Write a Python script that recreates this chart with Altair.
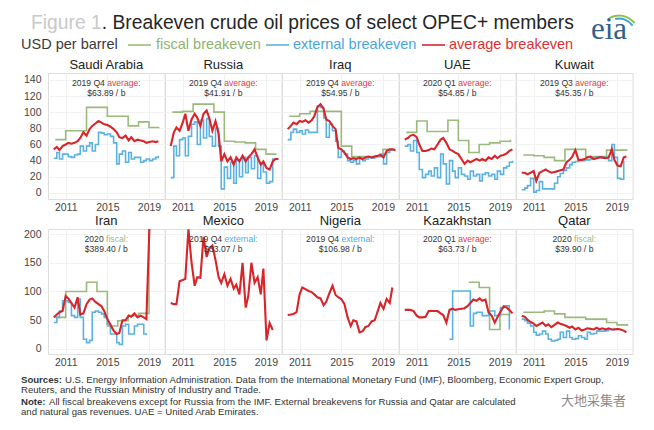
import altair as alt
import pandas as pd

FONT = "Liberation Sans"
GREEN = "#9aba7c"
BLUE = "#5bb2e2"
RED = "#d9242a"
DARK = "#333333"

ROW1 = ["Saudi Arabia", "Russia", "Iraq", "UAE", "Kuwait"]
ROW2 = ["Iran", "Mexico", "Nigeria", "Kazakhstan", "Qatar"]

# sampling times (years) of the external / average series
TIME = [2009.85, 2010.15, 2010.4, 2010.7, 2011.0, 2011.25, 2011.55, 2011.85, 2012.15, 2012.4,
        2012.7, 2013.0, 2013.3, 2013.55, 2013.85, 2014.15, 2014.45, 2014.7, 2015.0, 2015.3,
        2015.6, 2015.9, 2016.15, 2016.45, 2016.75, 2017.05, 2017.3, 2017.6, 2017.9, 2018.2,
        2018.5, 2018.75, 2019.05, 2019.35, 2019.65, 2019.9, 2020.2]
FISCAL_YEARS = [2010, 2011, 2012, 2013, 2014, 2015, 2016, 2017, 2018, 2019, 2020]

FISCAL = {
    "Saudi Arabia": [66, 77, 77, 106, 106, 95, 95, 83, 88, 81, 81],
    "Russia": [100, 101, 110, 110, 100, 64, 63, 62, 54, 48, 48],
    "Iraq": [95, 98, 101, 101, 101, 58, 45, 45, 45, 54, 54],
    "UAE": [75, 89, 76, 76, 90, 65, 50, 60, 62, 64, 66],
    "Kuwait": [47, 46, 44, 40, 54, 54, 45, 45, 53, 53, 53],
    "Iran": [55, 100, 100, 116, 100, 40, 49, 58, 62, 389.4, 389.4],
    "Mexico": [None] * 11,
    "Nigeria": [None] * 11,
    "Kazakhstan": [None, None, None, None, None, None, 116, 107, 34, 60, 60],
    "Qatar": [64, 64, 66, 61, 55, 55, 52, 52, 46, 42, 40],
}

EXTERNAL = {
    "Saudi Arabia": [43, 50, 42, 48, 48, 45, 44, 47, 48, 58, 52, 58, 62, 52, 60, 75, 74, 72, 73, 70,
                     62, 36, 48, 52, 38, 50, 42, 44, 44, 38, 40, 42, 40, 42, 44, 46],
    "Russia": [19, 58, 46, 66, 68, 46, 70, 85, 88, 60, 90, 68, 92, 70, 58, 80, 58, 5, 32, 18,
               38, 12, 40, 20, 44, 25, 44, 30, 46, 18, 36, 26, 12, 14, 42, 42],
    "Iraq": [66, 75, 79, 75, 77, 73, 78, 75, 75, 75, 108, 106, 93, 69, 85, 77, 64, 44, 52, 48,
             40, 38, 40, 36, 42, 40, 42, 44, 43, 45, 46, 48, 36, 50, 53, 54],
    "UAE": [58, 60, 52, 65, 50, 29, 19, 23, 27, 21, 31, 19, 48, 36, 11, 40, 27, 19, 31, 23,
            21, 17, 27, 21, 23, 15, 23, 25, 21, 23, 17, 27, 23, 31, 33, 38, 40],
    "Kuwait": [4, 6, 9, 18, 1, 3, 14, 5, 5, 5, 5, 12, 20, 24, 28, 31, 35, 38, 39, 40,
               40, 41, 41, 42, 43, 44, 44, 43, 44, 40, 60, 44, 18, 17, 40],
    "Iran": [46, 55, 66, 84, 84, 81, 58, 55, 87, 55, 17, 11, 15, 64, 66, 64, 61, 55, 43, 26,
             26, 11, 8, 40, 43, 26, 26, 40, 43, 43, 26, 24],
    "Mexico": [],
    "Nigeria": [],
    "Kazakhstan": [None] * 15 + [17, 101, 101, 101, 101, 101, 101, 40, 62, 64, 64, 58, 58, 66, 66,
                                 58, 58, 72, 75, 75, 34],
    "Qatar": [52, 49, 45, 40, 29, 24, 26, 31, 26, 17, 14, 15, 17, 29, 20, 31, 20, 17, 18, 23,
              20, 17, 29, 26, 27, 31, 31, 31, 32, 34, 34, 37],
}

AVERAGE = {
    "Saudi Arabia": [54, 57, 53, 58, 60, 62, 61, 62, 64, 68, 75, 71, 79, 83, 86, 89, 87, 85, 84, 82,
                     79, 75, 69, 68, 71, 65, 69, 64, 66, 65, 64, 62, 63, 64, 63, 64],
    "Russia": [58, 75, 81, 77, 87, 98, 77, 91, 98, 93, 83, 98, 102, 93, 77, 89, 73, 39, 48, 39,
               44, 35, 44, 39, 46, 39, 44, 48, 54, 44, 35, 39, 31, 29, 39, 42, 42],
    "Iraq": [79, 83, 87, 85, 89, 88, 90, 87, 90, 95, 106, 110, 104, 91, 89, 83, 79, 56, 54, 50,
             44, 42, 43, 42, 44, 42, 44, 45, 44, 45, 46, 47, 44, 52, 54, 54, 53],
    "UAE": [66, 68, 71, 72, 69, 60, 52, 52, 53, 55, 54, 60, 66, 68, 62, 54, 52, 50, 48, 42,
            36, 40, 38, 40, 42, 40, 42, 40, 44, 42, 46, 43, 46, 47, 49, 52, 54],
    "Kuwait": [25, 25, 23, 25, 27, 15, 25, 27, 29, 27, 25, 26, 27, 28, 29, 38, 41, 45, 53, 41,
               41, 42, 44, 45, 42, 43, 44, 44, 43, 44, 54, 41, 34, 33, 44, 45],
    "Iran": [55, 60, 64, 66, 92, 88, 80, 72, 90, 60, 62, 78, 86, 88, 82, 78, 74, 66, 52, 42,
             32, 26, 28, 50, 50, 58, 56, 62, 55, 58, 55, 52, 215],
    "Mexico": [80, 78, 78, 118, 120, 122, 208, 150, 110, 125, 124, 195, 160, 175, 180, 155, 125, 115,
               130, 110, 122, 105, 112, 95, 150, 72, 92, 150, 115, 125, 95, 140, 15, 45, 33],
    "Nigeria": [59, 60, 61, 64, 96, 107, 104, 101, 99, 95, 90, 88, 76, 82, 97, 110, 94, 90, 87, 78,
                55, 40, 50, 48, 29, 31, 38, 40, 48, 50, 66, 80, 70, 87, 80, 107],
    "Kazakhstan": [68, 68, 68, 66, 58, 55, 55, 56, 66, 66, 66, 66, 62, 59, 46, 68, 70, 68, 69, 70,
                   71, 75, 80, 86, 84, 88, 84, 86, 64, 58, 46, 55, 65, 74, 72, 68, 62],
    "Qatar": [58, 56, 51, 47, 44, 40, 43, 46, 40, 43, 38, 42, 46, 44, 42, 40, 37, 39, 34, 37,
              32, 34, 36, 35, 34, 37, 34, 36, 34, 36, 34, 34, 35, 34, 32, 29],
}

NOTE_PERIOD = {"Saudi Arabia": "2019 Q4", "Russia": "2019 Q4", "Iraq": "2019 Q4", "UAE": "2020 Q1",
               "Kuwait": "2019 Q3", "Iran": "2020", "Mexico": "2019 Q4", "Nigeria": "2019 Q4",
               "Kazakhstan": "2020 Q1", "Qatar": "2020"}
NOTE_SERIES = {"Saudi Arabia": "average", "Russia": "average", "Iraq": "average", "UAE": "average",
               "Kuwait": "average", "Iran": "fiscal", "Mexico": "external", "Nigeria": "external",
               "Kazakhstan": "average", "Qatar": "fiscal"}
NOTE_VALUE = {"Saudi Arabia": "$63.89 / b", "Russia": "$41.91 / b", "Iraq": "$54.95 / b",
              "UAE": "$54.85 / b", "Kuwait": "$45.35 / b", "Iran": "$389.40 / b",
              "Mexico": "$33.07 / b", "Nigeria": "$106.98 / b", "Kazakhstan": "$63.73 / b",
              "Qatar": "$39.90 / b"}
NOTE_COLOR = {"average": "#e8383d", "fiscal": "#9aba7c", "external": "#4aaee6"}

# ---------------------------------------------------------------- layout helpers
X_DOMAIN = [2009.3, 2020.5]
PANEL_W = 116.6
NOTE_SIZE = 8.6
PPY = PANEL_W / (X_DOMAIN[1] - X_DOMAIN[0])
X_CENTER = (X_DOMAIN[0] + X_DOMAIN[1]) / 2

ARIAL = {" ": 278, "Q": 778, "$": 556, ".": 278, "/": 278, ":": 278, "a": 556, "v": 500, "e": 556,
         "r": 333, "g": 556, "f": 278, "i": 222, "s": 500, "c": 500, "l": 222, "x": 500, "t": 278,
         "n": 556, "b": 556}


def text_w(s, size):
    return sum(ARIAL.get(ch, 556) for ch in s) / 1000.0 * size


def txt(text, x, y, size, color, weight="normal", align="left", font=FONT):
    return alt.Chart(pd.DataFrame({"t": [text]})).mark_text(
        align=align, baseline="middle", fontSize=size, font=font, color=color,
        fontWeight=weight).encode(text="t:N", x=alt.value(x), y=alt.value(y))


def swatch(x1, x2, y, color):
    return alt.Chart(pd.DataFrame({"t": [0]})).mark_rule(color=color, strokeWidth=1.6).encode(
        x=alt.value(x1), x2=alt.value(x2), y=alt.value(y))


def logo_arc(cx, cy, r1, r2, t1, t2, color):
    return alt.Chart(pd.DataFrame({"t": [0]})).mark_arc(
        radius=r1, radius2=r2, theta=t1, theta2=t2, color=color).encode(
        x=alt.value(cx), y=alt.value(cy))


# header texts, placed relative to the plot origin of the first panel (page x=47, y=72)
TITLE_SIZE = 19.3
HEADER = [
    txt("Figure 1", -17, -50, TITLE_SIZE, "#c9c9c9"),
    txt(". Breakeven crude oil prices of select OPEC+ members", 53.8, -50, TITLE_SIZE, "#262626"),
    txt("USD per barrel", -27, -28, 14.5, "#3a3a3a"),
    swatch(80, 103, -28, GREEN),
    txt("fiscal breakeven", 108, -28, 14.5, "#8fb46d"),
    swatch(218, 241, -28, BLUE),
    txt("external breakeven", 245, -28, 14.5, "#4aa6dc"),
    swatch(374, 397, -28, RED),
    txt("average breakeven", 401, -28, 14.5, "#e03030"),
    txt("eia", 561, -43, 31, "#2f5f8c", align="center", font="Liberation Serif"),
    logo_arc(571, -38, 18.5, 20.5, 5.75, 7.2, "#8cc152"),
    logo_arc(571, -38, 15.5, 17.5, 6.05, 7.25, "#3f9fd8"),
]

# footer texts, placed relative to the plot origin of the first panel of row 2 (page x=47, y=228)
FOOT_SIZE = 9.6
FOOTER = [
    txt("Sources:", -27, 151, FOOT_SIZE, "#333333", weight="bold"),
    txt("U.S. Energy Information Administration. Data from the International Monetary Fund (IMF), "
        "Bloomberg, Economic Expert Group,", 17, 151, FOOT_SIZE, "#333333"),
    txt("Reuters, and the Russian Ministry of Industry and Trade.", -27, 161, FOOT_SIZE, "#333333"),
    txt("Note:", -27, 173, FOOT_SIZE, "#333333", weight="bold"),
    txt("All fiscal breakevens except for Russia from the IMF. External breakevens for Russia and "
        "Qatar are calculated", 1, 173, FOOT_SIZE, "#333333"),
    txt("and natural gas revenues. UAE = United Arab Emirates.", -27, 183, FOOT_SIZE, "#333333"),
    txt("大地采集者", 513, 172, 13, "#8a8a8a", font="Noto Sans CJK SC"),
]


def build_df(c):
    rows = []
    for yr, v in zip(FISCAL_YEARS, FISCAL[c]):
        if v is not None:
            rows.append(dict(kind="fiscal", t=yr, v=v))
    for t, v in zip(TIME, EXTERNAL[c]):
        if v is not None:
            rows.append(dict(kind="external", t=t, v=v))
    for t, v in zip(TIME, AVERAGE[c]):
        if v is not None:
            rows.append(dict(kind="average", t=t, v=v))
    prefix = NOTE_PERIOD[c]
    suffix = NOTE_SERIES[c] + ":"
    sp = text_w(" ", NOTE_SIZE)
    wp, ws = text_w(prefix, NOTE_SIZE), text_w(suffix, NOTE_SIZE)
    split_px = -(wp + sp + ws) / 2 + wp + sp / 2
    rows.append(dict(kind="note", prefix=prefix, suffix=suffix,
                     scol=NOTE_COLOR[NOTE_SERIES[c]], val=NOTE_VALUE[c],
                     xs=X_CENTER + split_px / PPY))
    return pd.DataFrame(rows)


def panel(c, first, y_domain, y_ticks, height, note_y1, note_y2, extra):
    df = build_df(c)
    xs = alt.Scale(domain=X_DOMAIN, nice=False, zero=False)
    ys = alt.Scale(domain=y_domain, nice=False, zero=False)
    xaxis = alt.Axis(values=[2011, 2015, 2019], format="d", title=None, labelFontSize=10.5,
                     labelColor="#444444", labelFont=FONT, ticks=False, domain=False, grid=True,
                     gridColor="#f2f2f2", labelPadding=3, labelFlush=False, labelOverlap=False)
    yaxis = alt.Axis(values=y_ticks, title=None, labelFontSize=10.5, labelColor="#444444",
                     labelFont=FONT, ticks=False, domain=False, grid=True, gridColor="#f2f2f2",
                     labelPadding=7, labelOverlap=False, labels=first)
    X = alt.X("t:Q", scale=xs, axis=xaxis)
    Y = alt.Y("v:Q", scale=ys, axis=yaxis)
    base = alt.Chart()
    fiscal = base.transform_filter(alt.datum.kind == "fiscal").mark_line(
        interpolate="step-after", color=GREEN, strokeWidth=1.6, clip=True).encode(x=X, y=Y)
    external = base.transform_filter(alt.datum.kind == "external").mark_line(
        interpolate="step-after", color=BLUE, strokeWidth=1.6, clip=True).encode(x=X, y=Y)
    average = base.transform_filter(alt.datum.kind == "average").mark_line(
        color=RED, strokeWidth=2.1, clip=True).encode(x=X, y=Y)
    notes = base.transform_filter(alt.datum.kind == "note")
    sp = text_w(" ", NOTE_SIZE) / 2
    n1a = notes.mark_text(align="right", baseline="middle", fontSize=NOTE_SIZE, font=FONT,
                          color=DARK, dx=-sp).encode(
        x=alt.X("xs:Q", scale=xs, axis=xaxis), y=alt.Y(datum=note_y1, scale=ys, axis=yaxis),
        text="prefix:N")
    n1b = notes.mark_text(align="left", baseline="middle", fontSize=NOTE_SIZE, font=FONT,
                          dx=sp).encode(
        x=alt.X("xs:Q", scale=xs, axis=xaxis), y=alt.Y(datum=note_y1, scale=ys, axis=yaxis),
        text="suffix:N", color=alt.Color("scol:N", scale=None))
    n2 = notes.mark_text(align="center", baseline="middle", fontSize=NOTE_SIZE, font=FONT,
                         color=DARK).encode(
        x=alt.X(datum=X_CENTER, scale=xs, axis=xaxis), y=alt.Y(datum=note_y2, scale=ys, axis=yaxis),
        text="val:N")
    title = txt(c, PANEL_W / 2, -8, 13, "#222222", align="center")
    return alt.layer(fiscal, external, average, n1a, n1b, n2, title, *extra, data=df).properties(
        width=PANEL_W, height=height)


panels = []
for i, c in enumerate(ROW1):
    panels.append(panel(c, i == 0, [-7.5, 148.5], [0, 20, 40, 60, 80, 100, 120, 140], 126, 136, 124,
                        HEADER if i == 0 else []))
for i, c in enumerate(ROW2):
    panels.append(panel(c, i == 0, [-8.7, 208.7], [0, 50, 100, 150, 200], 125, 191, 174,
                        FOOTER if i == 0 else []))

chart = alt.concat(
    *panels, columns=5, spacing=alt.RowColnumber(row=30, column=0), bounds="flush"
).properties(
    padding={"left": 12, "top": 5, "right": 0, "bottom": 0}
).configure_view(stroke="#d9d9d9", strokeWidth=1).configure(background="white")

chart.save("out.html", embed_options={"renderer": "svg", "actions": False})
